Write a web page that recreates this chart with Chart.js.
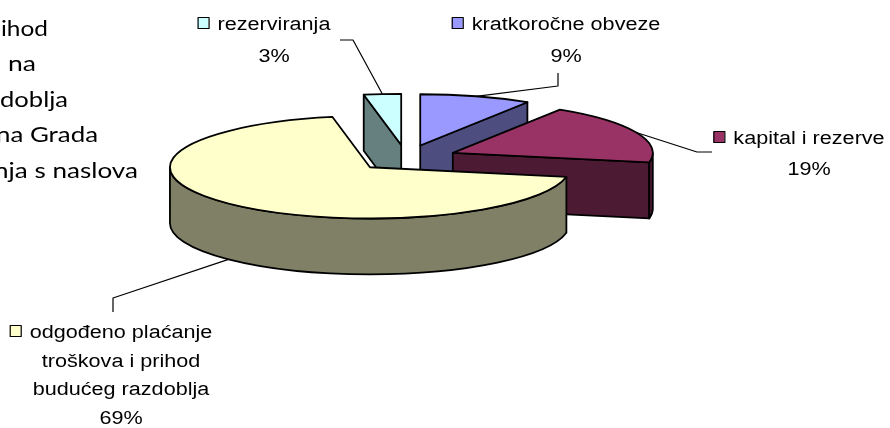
<!DOCTYPE html>
<html>
<head>
<meta charset="utf-8">
<script src="https://cdn.jsdelivr.net/npm/chart.js@4.4.1/dist/chart.umd.min.js"></script>
<style>
  body { margin: 0; background: #fff; }
  #wrap { position: relative; width: 890px; height: 428px; }
</style>
</head>
<body>
<div id="wrap"><canvas id="pie"></canvas></div>
<script>
// slices, clockwise from 12 o'clock
const categories = [
  ['kratkoročne obveze'],
  ['kapital i rezerve'],
  ['odgođeno plaćanje', 'troškova i prihod', 'budućeg razdoblja'],
  ['rezerviranja']
];
const shares = [9, 19, 69, 3];
const topColors = ['#9999FF', '#993366', '#FFFFCC', '#CCFFFF'];

// document text that shows behind the chart on the left (cut by the page edge)
const pageLines = ['ihod', 'na', 'doblja', 'na Grada', 'nja s naslova'];
const pageSpan = [[1, 48], [8, 36], [0, 68], [-4, 98], [-6, 138]];

// where each data label sits and how its leader line bends
const labelSpots = [
  { x: 566, y: 30, lh: 32, path: [[558, 86], [558, 73]] },
  { x: 809, y: 144, lh: 31, path: [[697, 152], [712, 152]] },
  { x: 121, y: 338, lh: 28.7, path: [[113, 298], [113, 312]] },
  { x: 274, y: 30, lh: 32, path: [[353, 40], [340, 40]] }
];

function darken(hex, f) {
  const n = parseInt(hex.slice(1), 16);
  const r = Math.round(((n >> 16) & 255) * f);
  const g = Math.round(((n >> 8) & 255) * f);
  const b = Math.round((n & 255) * f);
  return 'rgb(' + r + ',' + g + ',' + b + ')';
}

function centerText(ctx, text, x, y, sx) {
  ctx.save();
  ctx.translate(x, y);
  ctx.scale(sx, 1);
  ctx.textAlign = 'center';
  ctx.fillText(text, 0, 0);
  ctx.restore();
}

const pie3d = {
  id: 'pie3d',
  beforeDatasetsDraw(chart, args, opts) {
    const ctx = chart.ctx;
    const k = opts.tilt, d = opts.depth, e = opts.explode;
    const total = shares.reduce((a, b) => a + b, 0);

    const slices = chart.getDatasetMeta(0).data.map((arc, i) => {
      const p = arc.getProps(['x', 'y', 'startAngle', 'endAngle', 'outerRadius']);
      const h = (p.startAngle + p.endAngle) / 2;
      return {
        i, h, a0: p.startAngle, a1: p.endAngle, r: p.outerRadius,
        ox: p.x + e * Math.cos(h),
        oy: p.y + k * e * Math.sin(h),
        color: arc.options.backgroundColor
      };
    });
    const pt = (s, a, dz) => [s.ox + s.r * Math.cos(a), s.oy + k * s.r * Math.sin(a) + (dz || 0)];

    ctx.save();
    ctx.lineWidth = 1.8;
    ctx.lineJoin = 'round';
    ctx.strokeStyle = '#000';

    // side walls, back slices first
    slices.slice().sort((a, b) => Math.sin(a.h) - Math.sin(b.h)).forEach(s => {
      ctx.fillStyle = darken(s.color, 0.5);
      const walls = [];
      if (Math.cos(s.a0) < -0.01) walls.push(s.a0);
      if (Math.cos(s.a1) > 0.01) walls.push(s.a1);
      walls.forEach(a => {
        const q = pt(s, a);
        ctx.beginPath();
        ctx.moveTo(s.ox, s.oy);
        ctx.lineTo(q[0], q[1]);
        ctx.lineTo(q[0], q[1] + d);
        ctx.lineTo(s.ox, s.oy + d);
        ctx.closePath();
        ctx.fill();
        ctx.stroke();
      });
      const lo = Math.max(s.a0, 0), hi = Math.min(s.a1, Math.PI);
      if (lo < hi) {
        ctx.beginPath();
        ctx.ellipse(s.ox, s.oy, s.r, k * s.r, 0, lo, hi, false);
        ctx.ellipse(s.ox, s.oy + d, s.r, k * s.r, 0, hi, lo, true);
        ctx.closePath();
        ctx.fill();
        ctx.stroke();
      }
    });

    // top faces
    slices.forEach(s => {
      ctx.fillStyle = s.color;
      ctx.beginPath();
      ctx.moveTo(s.ox, s.oy);
      ctx.ellipse(s.ox, s.oy, s.r, k * s.r, 0, s.a0, s.a1, false);
      ctx.closePath();
      ctx.fill();
      ctx.stroke();
    });

    // leader lines and labels
    ctx.lineWidth = 1.2;
    ctx.font = '18px "Liberation Sans", Arial, sans-serif';
    ctx.textBaseline = 'alphabetic';
    const sx = opts.textStretch;
    slices.forEach(s => {
      const spot = labelSpots[s.i];
      const start = pt(s, s.h, Math.sin(s.h) > 0 ? d : 0);
      ctx.beginPath();
      ctx.moveTo(start[0], start[1]);
      spot.path.forEach(p => ctx.lineTo(p[0], p[1]));
      ctx.stroke();

      const lines = categories[s.i].concat([Math.round(shares[s.i] / total * 100) + '%']);
      ctx.fillStyle = '#000';
      lines.forEach((t, j) => centerText(ctx, t, spot.x, spot.y + j * spot.lh, sx));

      const left = spot.x - ctx.measureText(lines[0]).width * sx / 2;
      ctx.fillStyle = s.color;
      ctx.fillRect(left - 20, spot.y - 12, 11, 11);
      ctx.strokeRect(left - 19.5, spot.y - 12.5, 11, 11);
    });

    // page text behind the chart
    ctx.fillStyle = '#000';
    ctx.font = '22px Lato, "Open Sans", sans-serif';
    ctx.textAlign = 'left';
    pageLines.forEach((t, j) => {
      const [x0, x1] = pageSpan[j];
      ctx.save();
      ctx.translate(x0, 35.5 + j * 35.5);
      ctx.scale((x1 - x0) / ctx.measureText(t).width, 1);
      ctx.fillText(t, 0, 0);
      ctx.restore();
    });

    ctx.restore();
    return false;
  }
};

new Chart(document.getElementById('pie'), {
  type: 'pie',
  data: {
    labels: categories,
    datasets: [{
      data: shares,
      backgroundColor: topColors,
      borderColor: '#000',
      borderWidth: 1
    }]
  },
  options: {
    responsive: true,
    maintainAspectRatio: false,
    animation: false,
    events: [],
    radius: 200,
    layout: { padding: { left: 206, right: 284, top: 0, bottom: 112 } },
    plugins: {
      legend: { display: false },
      tooltip: { enabled: false },
      pie3d: { tilt: 0.256, depth: 56, explode: 51, textStretch: 1.2 }
    }
  },
  plugins: [pie3d]
});
</script>
</body>
</html>
